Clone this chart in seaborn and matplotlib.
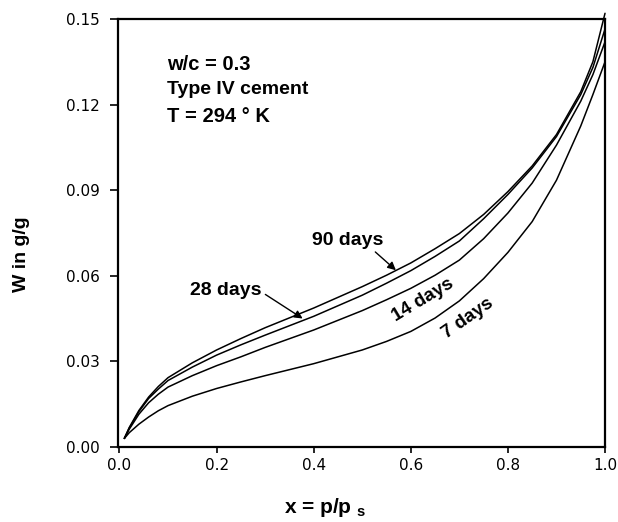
import numpy as np
import pandas as pd
import matplotlib
matplotlib.use("Agg")
import matplotlib.pyplot as plt
import seaborn as sns

# relative pressure x = p/ps
x_vals = [0.01, 0.02, 0.04, 0.06, 0.08, 0.10, 0.15, 0.20, 0.25, 0.30, 0.40,
          0.50, 0.55, 0.60, 0.65, 0.70, 0.75, 0.80, 0.85, 0.90, 0.95, 0.975, 1.00]

# water content W (g/g) for each curing age
w_90 = [0.0030, 0.0068, 0.0128, 0.0175, 0.0212, 0.0243, 0.0295, 0.0340,
        0.0380, 0.0418, 0.0487, 0.0562, 0.0602, 0.0645, 0.0695, 0.0748,
        0.0815, 0.0895, 0.0985, 0.1095, 0.1245, 0.1350, 0.1520]
w_28 = [0.0030, 0.0066, 0.0124, 0.0170, 0.0203, 0.0233, 0.0280, 0.0322,
        0.0358, 0.0392, 0.0458, 0.0532, 0.0574, 0.0618, 0.0668, 0.0722,
        0.0800, 0.0885, 0.0978, 0.1088, 0.1235, 0.1330, 0.1465]
w_14 = [0.0030, 0.0062, 0.0115, 0.0155, 0.0185, 0.0210, 0.0250, 0.0285,
        0.0316, 0.0349, 0.0410, 0.0478, 0.0516, 0.0556, 0.0602, 0.0655,
        0.0730, 0.0820, 0.0925, 0.1058, 0.1212, 0.1305, 0.1420]
w_7 = [0.0030, 0.0050, 0.0080, 0.0105, 0.0127, 0.0145, 0.0178, 0.0205,
       0.0228, 0.0250, 0.0292, 0.0340, 0.0370, 0.0405, 0.0452, 0.0512,
       0.0590, 0.0682, 0.0790, 0.0935, 0.1125, 0.1235, 0.1350]

ages = ["90 days", "28 days", "14 days", "7 days"]
series = [w_90, w_28, w_14, w_7]

rows = []
for age, ws in zip(ages, series):
    for xv, wv in zip(x_vals, ws):
        rows.append([age, xv, wv])
df = pd.DataFrame(rows, columns=["age", "x", "W"])

sns.set_style("ticks")
plt.rcParams['font.family'] = ['Liberation Sans', 'DejaVu Sans']
plt.rcParams['text.color'] = 'black'
plt.rcParams['axes.labelcolor'] = 'black'
plt.rcParams['mathtext.fontset'] = 'custom'
plt.rcParams['mathtext.rm'] = 'Liberation Sans:bold'
plt.rcParams['mathtext.bf'] = 'Liberation Sans:bold'

fig = plt.figure(figsize=(6.18, 5.22), dpi=100)
ax = fig.add_axes([0.191, 0.1437, 0.788, 0.8199])

sns.lineplot(data=df, x="x", y="W", hue="age", hue_order=ages,
             palette=["black"] * 4, legend=False, linewidth=1.1,
             clip_on=False, ax=ax)

ax.set_xlim(-0.003, 1.0)
ax.set_ylim(0, 0.15)
ax.set_xticks([0.0, 0.2, 0.4, 0.6, 0.8, 1.0])
ax.set_yticks([0.00, 0.03, 0.06, 0.09, 0.12, 0.15])
ax.set_xticklabels(["0.0", "0.2", "0.4", "0.6", "0.8", "1.0"])
ax.set_yticklabels(["0.00", "0.03", "0.06", "0.09", "0.12", "0.15"])
for lab in ax.get_xticklabels() + ax.get_yticklabels():
    lab.set_family(['DejaVu Sans'])
    lab.set_fontsize(11)
ax.tick_params(axis="y", direction="out", length=6, width=1.2, pad=7, colors="black")
ax.tick_params(axis="x", direction="out", length=4, width=1.2, pad=4, colors="black")
for s in ax.spines.values():
    s.set_linewidth(1.6)
    s.set_color("black")

ax.set_xlabel(r"x = p/p $_{\mathbf{s}}$", fontsize=15, fontweight="bold")
ax.set_ylabel("W in g/g", fontsize=14, fontweight="bold")
ax.xaxis.set_label_coords(0.425, -0.115)
ax.yaxis.set_label_coords(-0.18, 0.45)

ax.text(0.098, 0.1321, "w/c = 0.3", fontsize=14.5, fontweight="bold")
ax.text(0.098, 0.1237, "Type IV cement", fontsize=14, fontweight="bold")
ax.text(0.098, 0.1139, "T = 294 ° K", fontsize=14.5, fontweight="bold")

ax.text(0.3965, 0.0708, "90 days", fontsize=14, fontweight="bold")
ax.annotate("", xy=(0.5736, 0.0613), xytext=(0.5226, 0.0690),
            arrowprops=dict(arrowstyle="-|>", color="black", lw=1, mutation_scale=12))
ax.text(0.145, 0.0533, "28 days", fontsize=14, fontweight="bold")
ax.annotate("", xy=(0.382, 0.0445), xytext=(0.2956, 0.0540),
            arrowprops=dict(arrowstyle="-|>", color="black", lw=1, mutation_scale=12))
ax.text(0.625, 0.0515, "14 days", fontsize=13.5, fontweight="bold",
        rotation=31, ha="center", va="center", rotation_mode="anchor")
ax.text(0.718, 0.0452, "7 days", fontsize=13.5, fontweight="bold",
        rotation=35, ha="center", va="center", rotation_mode="anchor")

plt.savefig("out.png", dpi=100)
